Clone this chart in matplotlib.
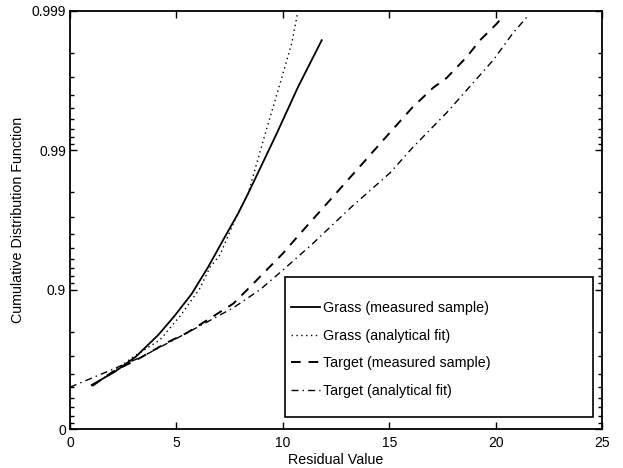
import numpy as np
import matplotlib
matplotlib.use("Agg")
import matplotlib.pyplot as plt
from matplotlib.ticker import FixedLocator, FixedFormatter, NullFormatter
from matplotlib.patches import Rectangle

plt.rcParams['font.family'] = ['Liberation Sans', 'DejaVu Sans']

# ---- data ----
grass_meas_x = [1.02, 2.1, 3.1, 4.15, 4.9, 5.72, 6.5, 7.28, 7.91, 8.46, 9.71, 10.7, 11.83]
grass_meas_p = [0.517, 0.611, 0.698, 0.789, 0.845, 0.893, 0.9316, 0.9583, 0.9718, 0.9809,
                0.99241, 0.99645, 0.99838]

grass_fit_x = [1.05, 2.0, 3.0, 4.23, 5.17, 6.1, 6.58, 7.05, 7.8, 8.37, 9.08, 9.87, 10.42, 10.7]
grass_fit_p = [0.510, 0.611, 0.698, 0.771, 0.845, 0.902, 0.931, 0.9438, 0.9698, 0.9796,
               0.99149, 0.99669, 0.9983, 0.99898]

target_meas_x = [1.05, 2.0, 3.29, 4.55, 5.5, 6.43, 7.67, 8.46, 9.1, 10.0, 10.8, 12.2, 13.9,
                 14.7, 16.1, 17.07, 17.7, 18.64, 19.27, 20.06, 20.4]
target_meas_p = [0.510, 0.611, 0.691, 0.760, 0.796, 0.834, 0.874, 0.9045, 0.9241, 0.945,
                 0.9602, 0.9771, 0.9883, 0.99149, 0.9951, 0.99645, 0.99698, 0.99786,
                 0.99838, 0.99877, 0.99893]

target_fit_x = [0.0, 1.88, 3.4, 5.5, 7.67, 8.93, 10.0, 11.4, 13.2, 15.04, 16.1, 17.7, 18.8,
                19.9, 20.8, 21.48]
target_fit_p = [0.499, 0.620, 0.698, 0.796, 0.865, 0.900, 0.9276, 0.9532, 0.9743, 0.9855,
                0.99045, 0.99463, 0.99653, 0.99776, 0.99855, 0.9989]

labels = ['Grass (measured sample)', 'Grass (analytical fit)',
          'Target (measured sample)', 'Target (analytical fit)']

y_major = [0.0, 0.9, 0.99, 0.999]
y_major_labels = ['0', '0.9', '0.99', '0.999']
y_minor = [0.1, 0.2, 0.3, 0.4, 0.5, 0.6, 0.7, 0.8,
           0.91, 0.92, 0.93, 0.94, 0.95, 0.96, 0.97, 0.98,
           0.991, 0.992, 0.993, 0.994, 0.995, 0.996, 0.997, 0.998]
x_ticks = [0, 5, 10, 15, 20, 25]


def fwd(p):
    p = np.asarray(p, dtype=float)
    return -np.log10(np.clip(1.0 - p, 1e-12, None))


def inv(t):
    t = np.asarray(t, dtype=float)
    return 1.0 - 10.0 ** (-t)


fig = plt.figure(figsize=(6.23, 4.68), dpi=100)
ax = fig.add_axes([0.1124, 0.0833, 0.8539, 0.8932])
ax.set_yscale('function', functions=(fwd, inv))

ax.plot(grass_meas_x, grass_meas_p, color='black', lw=1.3, ls='-', label=labels[0])
ax.plot(grass_fit_x, grass_fit_p, color='black', lw=1.0, ls=(0, (1, 2.5)), label=labels[1])
ax.plot(target_meas_x, target_meas_p, color='black', lw=1.4, ls=(0, (5, 4)), label=labels[2])
ax.plot(target_fit_x, target_fit_p, color='black', lw=1.0, ls=(0, (5, 3, 1, 3)), label=labels[3])

ax.set_xlim(0, 25)
ax.set_ylim(0.0, 0.999)
ax.yaxis.set_major_locator(FixedLocator(y_major))
ax.yaxis.set_major_formatter(FixedFormatter(y_major_labels))
ax.yaxis.set_minor_locator(FixedLocator(y_minor))
ax.yaxis.set_minor_formatter(NullFormatter())
ax.xaxis.set_major_locator(FixedLocator(x_ticks))

ax.tick_params(which='both', direction='in', top=True, right=True, labelsize=10, width=1.0)
ax.tick_params(which='major', length=5)
ax.tick_params(which='minor', length=3)
ax.tick_params(axis='x', pad=5)
ax.tick_params(axis='y', pad=3)
for s in ax.spines.values():
    s.set_linewidth(1.3)

ax.set_xlabel('Residual Value', fontsize=10.3, labelpad=2)
ax.set_ylabel('Cumulative Distribution Function', fontsize=10.3, labelpad=5)

# legend frame drawn as a rectangle, entries placed inside
ax.add_patch(Rectangle((0.404, 0.0287), 0.579, 0.3349, transform=ax.transAxes,
                       facecolor='white', edgecolor='black', lw=1.2, zorder=4))
leg = ax.legend(loc='upper left', bbox_to_anchor=(0.4155, 0.307),
                borderaxespad=0, borderpad=0, fontsize=10.3, frameon=False,
                labelspacing=0.97, handlelength=2.0, handletextpad=0.25)
leg.set_zorder(5)

fig.savefig('out.png', dpi=100)
